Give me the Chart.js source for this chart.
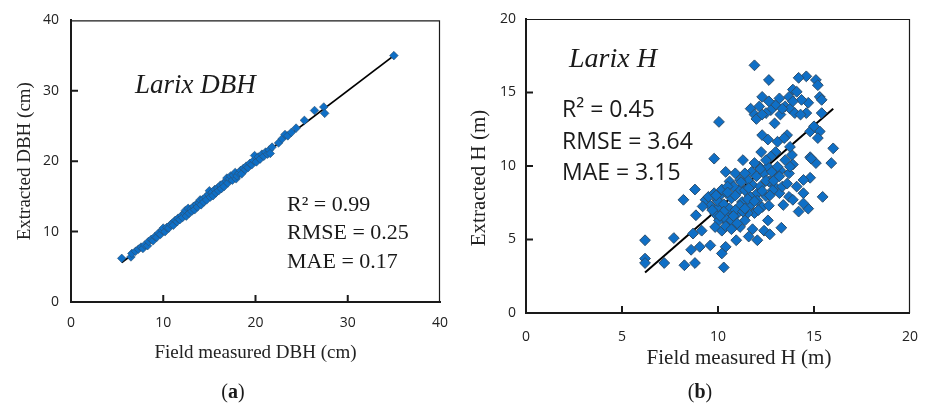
<!DOCTYPE html>
<html>
<head>
    <title>Larix DBH and H scatter</title>
    <style>
        body, html {
            margin: 0;
            background-color: #ffffff;
        }
        .panel {
            position: absolute;
            top: 0;
            width: 467px;
            height: 405px;
        }
        #panelA { left: 0; }
        #panelB { left: 467px; }
    </style>
</head>
<body>
    <div class="panel" id="panelA"><canvas id="chartA"></canvas></div>
    <div class="panel" id="panelB"><canvas id="chartB"></canvas></div>
    <script src="https://cdn.jsdelivr.net/npm/chart.js"></script>
    <script>
        // (a) Larix DBH: field measured vs extracted (cm)
        const dbhPoints = [
            [5.5, 6.2], [6.5, 6.4], [6.6, 6.9], [7.0, 7.2], [7.3, 7.5], [7.6, 7.8], [7.8, 7.6],
            [8.0, 8.1], [8.3, 8.0], [8.4, 8.6], [8.7, 8.9], [8.9, 8.7], [9.1, 9.3], [9.3, 9.2],
            [9.5, 9.8], [9.7, 9.6], [9.9, 10.2], [10.0, 10.5], [10.2, 10.0], [10.4, 10.6],
            [10.6, 10.5], [10.8, 11.0], [11.0, 11.2], [11.1, 10.9], [11.3, 11.6], [11.5, 11.4],
            [11.6, 11.9], [11.8, 11.7], [12.0, 12.3], [12.1, 12.0], [12.3, 12.6], [12.4, 13.0],
            [12.5, 12.2], [12.7, 13.3], [12.8, 12.6], [13.0, 13.2], [13.1, 12.9], [13.3, 13.6],
            [13.4, 13.1], [13.6, 13.9], [13.7, 13.5], [13.9, 14.1], [14.0, 14.5], [14.1, 13.8],
            [14.3, 14.6], [14.4, 14.2], [14.6, 14.9], [14.7, 14.5], [14.9, 15.3], [15.0, 15.8],
            [15.1, 14.9], [15.3, 15.6], [15.4, 15.1], [15.6, 16.0], [15.7, 15.5], [15.9, 16.2],
            [16.0, 15.8], [16.2, 16.6], [16.3, 16.1], [16.5, 16.8], [16.6, 16.4], [16.8, 17.2],
            [16.9, 17.6], [17.0, 16.9], [17.2, 17.5], [17.3, 17.9], [17.5, 17.3], [17.6, 18.0],
            [17.8, 18.4], [17.9, 17.5], [18.0, 17.9], [18.2, 18.3], [18.4, 18.7], [18.5, 18.2],
            [18.7, 19.0], [18.9, 18.8], [19.0, 19.3], [19.2, 19.1], [19.4, 19.7], [19.6, 19.5],
            [19.8, 20.1], [19.9, 20.8], [20.1, 19.9], [20.3, 20.6], [20.5, 20.3], [20.7, 21.0],
            [20.9, 20.7], [21.1, 21.3], [21.3, 21.0], [21.5, 21.6], [21.6, 21.1], [21.8, 22.0],
            [22.5, 22.6], [22.9, 23.2], [23.2, 23.8], [23.5, 23.6], [23.9, 24.1], [24.4, 24.7],
            [25.3, 25.8], [26.4, 27.2], [27.4, 27.7], [27.5, 26.8], [35.0, 35.0]
        ];
        const dbhFit = [[5.5, 5.6], [35.0, 35.0]];
        const dbhTicks = [0, 10, 20, 30, 40];
        const dbhStats = ['R\u00B2 = 0.99', 'RMSE = 0.25', 'MAE = 0.17'];

        // (b) Larix H: field measured vs extracted (m)
        const hPoints = [
            [6.2, 4.95], [6.2, 3.7], [6.2, 3.4], [7.2, 3.4], [7.7, 5.1], [8.2, 7.7], [8.25, 3.25],
            [8.8, 8.4], [8.8, 3.4], [8.85, 6.65], [8.7, 5.4], [8.6, 4.3], [9.15, 5.6], [9.05, 4.5],
            [9.6, 4.6], [9.8, 10.5], [10.05, 13.0], [10.3, 3.1], [10.4, 4.5], [10.2, 4.05],
            [10.95, 4.95], [11.6, 5.2], [11.8, 5.7], [12.05, 4.95], [12.4, 5.6], [12.7, 5.35],
            [13.3, 5.8], [11.9, 16.85], [12.65, 15.85], [11.7, 13.9], [12.15, 14.05], [12.3, 14.7],
            [11.9, 13.5], [14.6, 16.1], [14.2, 16.0], [15.1, 15.85], [15.2, 15.5], [15.3, 14.7],
            [15.4, 14.5], [15.4, 13.6], [16.0, 11.2], [15.9, 10.2], [15.45, 7.9], [15.1, 10.2],
            [14.8, 10.6], [14.8, 9.2], [14.7, 7.1], [14.45, 7.45], [14.2, 6.9], [15.3, 12.35],
            [15.2, 11.9], [14.8, 12.35], [15.0, 12.7], [14.7, 14.3], [14.6, 13.6], [13.9, 15.2],
            [13.7, 14.7], [14.1, 15.05], [13.5, 14.05], [13.75, 13.9], [14.0, 13.6], [14.3, 13.5],
            [13.25, 13.5], [13.0, 14.15], [12.75, 13.8], [12.5, 13.6], [12.95, 12.9], [13.6, 12.1],
            [12.3, 12.1], [12.6, 11.8], [13.1, 11.65], [14.45, 8.15], [14.1, 8.6], [13.7, 7.9],
            [13.4, 7.35], [13.9, 7.7], [13.5, 10.4], [13.85, 10.75], [13.9, 10.1], [13.25, 9.7],
            [13.2, 8.15], [12.95, 8.6], [13.0, 10.95], [12.25, 10.95], [12.15, 9.95], [11.3, 10.4],
            [10.9, 9.5], [10.4, 9.6], [12.05, 8.15], [11.9, 6.8], [12.3, 7.2], [12.6, 6.3],
            [12.65, 7.3], [11.55, 6.8], [11.4, 6.3], [11.25, 7.55], [11.1, 8.35], [10.7, 7.8],
            [10.55, 6.75], [10.8, 5.85], [10.45, 6.2], [10.2, 5.6], [10.05, 6.3], [9.85, 6.75],
            [9.6, 7.3], [9.35, 7.7], [9.5, 7.9], [9.8, 8.15], [9.95, 7.7], [10.1, 8.0],
            [10.2, 7.05], [9.2, 7.25], [9.85, 5.85], [11.0, 6.75], [11.15, 5.85], [11.65, 7.95],
            [11.8, 8.7], [11.55, 9.05], [11.75, 9.6], [12.4, 9.5], [12.6, 9.95], [12.65, 8.95],
            [13.0, 9.3], [12.85, 8.35], [13.35, 8.6], [13.6, 8.8], [13.7, 9.5], [13.75, 9.95],
            [11.4, 8.35], [11.15, 9.05], [11.4, 9.5], [10.6, 8.95], [10.4, 8.2], [10.8, 8.6],
            [10.05, 7.2], [10.4, 6.4], [10.7, 6.3], [11.15, 7.3], [12.2, 8.6], [12.5, 7.95],
            [11.7, 7.35], [12.05, 7.65], [13.1, 9.95], [12.75, 10.65], [12.5, 10.4], [11.9, 10.2],
            [11.55, 7.75], [14.35, 14.5], [13.2, 14.6], [12.65, 14.4], [13.35, 13.9], [13.9, 14.4],
            [12.0, 13.2], [12.3, 13.5], [14.85, 10.5], [14.45, 9.05], [13.75, 11.3], [13.45, 11.9],
            [10.0, 7.6], [10.3, 7.4], [10.6, 7.1], [10.9, 7.0], [10.3, 6.9], [10.1, 6.6],
            [10.8, 6.6], [11.3, 6.9], [10.4, 5.9], [10.7, 5.7], [11.0, 6.1], [9.7, 7.0],
            [9.9, 8.0], [10.2, 8.4], [10.5, 8.6], [10.9, 8.0], [11.2, 8.9], [11.6, 8.5],
            [12.0, 9.3], [12.2, 9.8], [12.5, 9.0], [12.8, 9.6], [12.3, 8.3], [12.9, 9.0],
            [13.2, 9.3], [12.7, 8.0], [11.9, 7.6], [12.1, 7.0], [11.4, 7.1], [10.5, 8.2]
        ];
        const hFit = [[6.2, 2.75], [16.0, 13.9]];
        const hTicks = [0, 5, 10, 15, 20];
        const hStats = ['R\u00B2 = 0.45', 'RMSE = 3.64', 'MAE = 3.15'];

        const SERIF = '"Liberation Serif", "Times New Roman", serif';
        const SANS = '"Open Sans", "Noto Sans", sans-serif';
        const INK = '#1a1a1a';

        function toXY(pairs) {
            return pairs.map(p => ({ x: p[0], y: p[1] }));
        }

        // thin top/right frame and inward tick marks
        const framePlugin = {
            id: 'frame',
            afterDraw(chart) {
                const { ctx, chartArea: a } = chart;
                const xs = chart.scales.x, ys = chart.scales.y;
                ctx.save();
                ctx.strokeStyle = INK;
                ctx.lineWidth = 1.2;
                ctx.beginPath();
                ctx.moveTo(a.left, a.top + 0.5);
                ctx.lineTo(a.right - 0.5, a.top + 0.5);
                ctx.lineTo(a.right - 0.5, a.bottom);
                ctx.stroke();
                ctx.lineWidth = 2;
                ctx.beginPath();
                xs.ticks.forEach((t, i) => {
                    if (i === 0 || i === xs.ticks.length - 1) return;
                    const px = xs.getPixelForTick(i);
                    ctx.moveTo(px, a.bottom);
                    ctx.lineTo(px, a.bottom - 7);
                });
                ys.ticks.forEach((t, i) => {
                    if (i === 0 || i === ys.ticks.length - 1) return;
                    const py = ys.getPixelForTick(i);
                    ctx.moveTo(a.left, py);
                    ctx.lineTo(a.left + 7, py);
                });
                ctx.stroke();
                ctx.restore();
            }
        };

        function textPlugin(items) {
            return {
                id: 'panelText',
                afterDraw(chart) {
                    const ctx = chart.ctx;
                    ctx.save();
                    items.forEach(it => {
                        ctx.save();
                        ctx.fillStyle = it.color || INK;
                        ctx.textBaseline = 'middle';
                        ctx.translate(it.x, it.y);
                        if (it.rotate) ctx.rotate(it.rotate);
                        if (it.parts) {
                            // mixed weight label like "(a)"
                            let w = 0;
                            it.parts.forEach(p => { ctx.font = p.font; w += ctx.measureText(p.text).width; });
                            let cx = -w / 2;
                            ctx.textAlign = 'left';
                            it.parts.forEach(p => {
                                ctx.font = p.font;
                                ctx.fillText(p.text, cx, 0);
                                cx += ctx.measureText(p.text).width;
                            });
                        } else {
                            ctx.font = it.font;
                            ctx.textAlign = it.align || 'left';
                            ctx.fillText(it.text, 0, 0);
                        }
                        ctx.restore();
                    });
                    ctx.restore();
                }
            };
        }

        function panelLabel(letter) {
            return {
                x: 233, y: 393,
                parts: [
                    { text: '(', font: '20px ' + SERIF },
                    { text: letter, font: 'bold 20px ' + SERIF },
                    { text: ')', font: '20px ' + SERIF }
                ]
            };
        }

        function makeChart(id, cfg) {
            const ctx = document.getElementById(id).getContext('2d');
            return new Chart(ctx, {
                type: 'scatter',
                data: {
                    datasets: [{
                        label: 'points',
                        data: toXY(cfg.points),
                        pointStyle: 'rectRot',
                        pointRadius: cfg.radius,
                        backgroundColor: '#0f6fc6',
                        borderColor: '#2c4d6b',
                        borderWidth: cfg.markerBorder
                    }, {
                        label: 'fit',
                        data: toXY(cfg.fit),
                        showLine: true,
                        pointRadius: 0,
                        borderColor: '#000000',
                        borderWidth: cfg.lineWidth,
                        fill: false
                    }]
                },
                options: {
                    responsive: true,
                    maintainAspectRatio: false,
                    animation: false,
                    layout: { padding: cfg.padding },
                    plugins: {
                        legend: { display: false },
                        tooltip: { enabled: false }
                    },
                    scales: {
                        x: {
                            type: 'linear',
                            min: cfg.ticks[0],
                            max: cfg.ticks[cfg.ticks.length - 1],
                            afterBuildTicks: s => { s.ticks = cfg.ticks.map(v => ({ value: v })); },
                            afterFit: s => { s.height = cfg.xHeight; },
                            grid: { display: false, drawTicks: false },
                            border: { display: true, color: INK, width: 2 },
                            ticks: { font: { family: SANS, size: 14 }, color: '#222', padding: cfg.xPad },
                            title: cfg.xTitle
                        },
                        y: {
                            type: 'linear',
                            min: cfg.ticks[0],
                            max: cfg.ticks[cfg.ticks.length - 1],
                            afterBuildTicks: s => { s.ticks = cfg.ticks.map(v => ({ value: v })); },
                            afterFit: s => { s.width = cfg.yWidth; },
                            grid: { display: false, drawTicks: false },
                            border: { display: true, color: INK, width: 2 },
                            ticks: { font: { family: SANS, size: 14 }, color: '#222', padding: cfg.yPad },
                            title: cfg.yTitle
                        }
                    }
                },
                plugins: [framePlugin, textPlugin(cfg.texts)]
            });
        }

        makeChart('chartA', {
            points: dbhPoints,
            fit: dbhFit,
            ticks: dbhTicks,
            radius: 4.3,
            markerBorder: 0.6,
            lineWidth: 1.8,
            padding: { top: 17, right: 27, left: 0, bottom: 0 },
            xHeight: 103,
            yWidth: 71,
            xPad: 13,
            yPad: 12,
            xTitle: {
                display: true, text: 'Field measured DBH (cm)', color: '#222',
                font: { family: SERIF, size: 19 }, padding: { top: 0, bottom: 41 }
            },
            yTitle: {
                display: true, text: 'Extracted DBH (cm)', color: '#222',
                font: { family: SERIF, size: 19 }, padding: { top: 14, bottom: 0 }
            },
            texts: [
                { text: 'Larix DBH', x: 135, y: 86, font: 'italic 27px ' + SERIF },
                { text: dbhStats[0], x: 287, y: 205, font: '22px ' + SERIF },
                { text: dbhStats[1], x: 287, y: 233, font: '22px ' + SERIF },
                { text: dbhStats[2], x: 287, y: 262, font: '22px ' + SERIF },
                panelLabel('a')
            ]
        });

        makeChart('chartB', {
            points: hPoints,
            fit: hFit,
            ticks: hTicks,
            radius: 5.4,
            markerBorder: 1,
            lineWidth: 2,
            padding: { top: 19, right: 15, left: 0, bottom: 0 },
            xHeight: 92,
            yWidth: 59,
            xPad: 16,
            yPad: 10,
            xTitle: { display: false },
            yTitle: { display: false },
            texts: [
                { text: 'Field measured H (m)', x: 272, y: 358, align: 'center', font: '21px ' + SERIF, color: '#222' },
                { text: 'Extracted H (m)', x: 12, y: 178, align: 'center', rotate: -Math.PI / 2, font: '21px ' + SERIF, color: '#222' },
                { text: 'Larix H', x: 102, y: 60, font: 'italic 28px ' + SERIF },
                { text: hStats[0], x: 95, y: 110, font: '23px ' + SANS },
                { text: hStats[1], x: 95, y: 142, font: '23px ' + SANS },
                { text: hStats[2], x: 95, y: 173, font: '23px ' + SANS },
                panelLabel('b')
            ]
        });
    </script>
</body>
</html>
